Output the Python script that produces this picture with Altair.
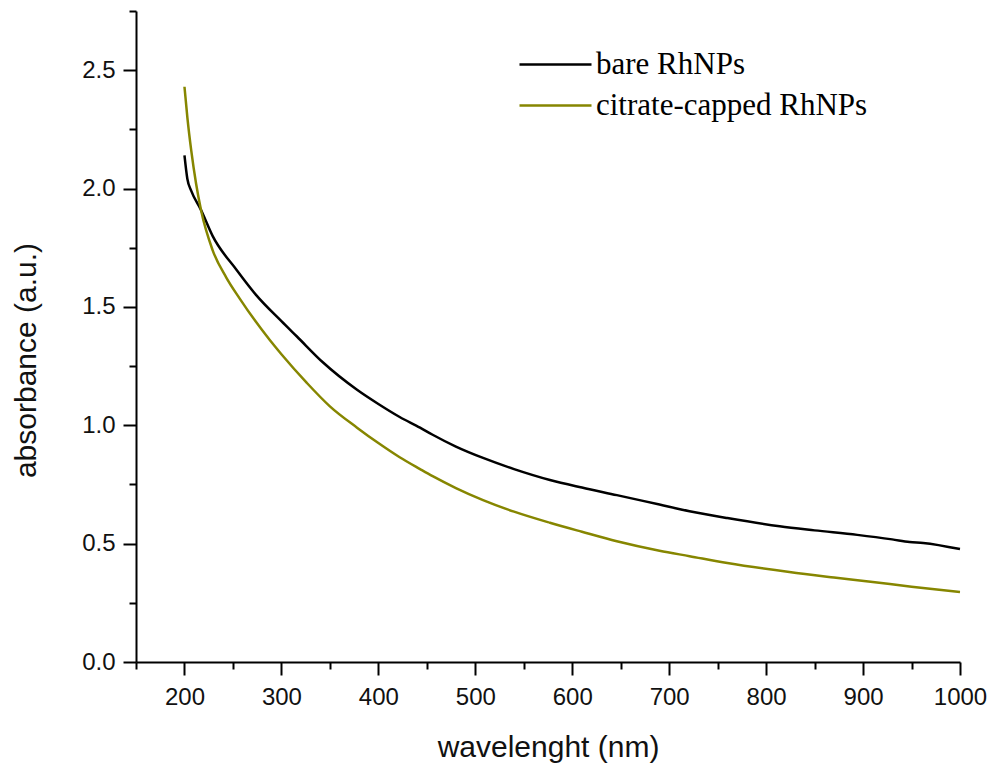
import altair as alt
import pandas as pd

# --- data ---
bare_wl = [200, 203, 207, 217, 229, 254, 274, 300, 316, 343, 378, 400, 422,
           443, 456, 480, 508, 540, 577, 610, 646, 690, 721, 760, 814, 850, 894,
           930, 948, 962, 1000]
bare_abs = [2.14, 2.04, 1.99, 1.91, 1.80, 1.655, 1.55, 1.44, 1.375, 1.265,
            1.15, 1.09, 1.035, 0.99, 0.96, 0.91, 0.862, 0.815, 0.769, 0.737,
            0.705, 0.665, 0.637, 0.608, 0.573, 0.556, 0.537, 0.518, 0.507,
            0.503, 0.477]

cit_wl = [200, 203, 207, 212, 217, 229, 243, 257, 288, 300, 326, 350, 378, 400,
          422, 443, 456, 480, 508, 540, 577, 610, 646, 690, 721, 760, 824, 870,
          910, 950, 1000]
cit_abs = [2.43, 2.30, 2.16, 2.02, 1.91, 1.74, 1.625, 1.535, 1.36, 1.30, 1.18,
           1.08, 0.99, 0.925, 0.865, 0.815, 0.785, 0.735, 0.684, 0.635, 0.588,
           0.55, 0.51, 0.47, 0.447, 0.418, 0.38, 0.357, 0.338, 0.318, 0.296]

series_names = ["bare RhNPs", "citrate-capped RhNPs"]
series_colors = ["#000000", "#868600"]

x_major = list(range(200, 1001, 100))
x_minor = list(range(150, 1000, 100))
y_major = [0.0, 0.5, 1.0, 1.5, 2.0, 2.5]
y_minor = [0.25, 0.75, 1.25, 1.75, 2.25, 2.75]

df = pd.concat([
    pd.DataFrame({"wavelength": bare_wl, "absorbance": bare_abs, "sample": series_names[0]}),
    pd.DataFrame({"wavelength": cit_wl, "absorbance": cit_abs, "sample": series_names[1]}),
])

x_scale = alt.Scale(domain=[150, 1000], nice=False, zero=False)
y_scale = alt.Scale(domain=[0, 2.75], nice=False)

base = alt.Chart(df)

lines = base.mark_line(strokeWidth=2.5, interpolate="monotone").encode(
    x=alt.X("wavelength:Q", title="wavelenght (nm)", scale=x_scale,
            axis=alt.Axis(values=x_major, format="d", tickSize=13, labelPadding=10,
                          labelFlush=False, labelOverlap=False,
                          titleBaseline="alphabetic", titleY=94, grid=False,
                          orient="bottom")),
    y=alt.Y("absorbance:Q", title="absorbance (a.u.)", scale=y_scale,
            axis=alt.Axis(values=y_major, format=".1f", tickSize=13, labelPadding=8,
                          labelFlush=False, labelOverlap=False,
                          titleBaseline="alphabetic", titleAngle=270, titleX=-101,
                          titleY=349, titleAlign="center", grid=False,
                          orient="left")),
    color=alt.Color("sample:N",
                    scale=alt.Scale(domain=series_names, range=series_colors),
                    legend=alt.Legend(
                        orient="none", legendX=400, legendY=34, title=None,
                        symbolType="M-2,0H2", symbolSize=1296, symbolStrokeWidth=2.5,
                        labelFont="Liberation Serif", labelFontSize=31,
                        labelColor="#000000", labelOffset=21, labelLimit=0,
                        rowPadding=6, padding=0,
                    )),
)

minor = base.mark_line(strokeOpacity=0).encode(
    x=alt.X("wavelength:Q", scale=x_scale,
            axis=alt.Axis(values=x_minor, tickSize=7, labels=False, domain=False,
                          title=None, grid=False, orient="bottom")),
    y=alt.Y("absorbance:Q", scale=y_scale,
            axis=alt.Axis(values=y_minor, tickSize=7, labels=False, domain=False,
                          title=None, grid=False, orient="left")),
    detail="sample:N",
)

chart = alt.layer(lines, minor).resolve_axis(
    x="independent", y="independent"
).properties(
    width=824,
    height=651,
    autosize=alt.AutoSizeParams(type="none"),
    padding={"left": 136, "top": 11, "right": 32, "bottom": 102},
    background="white",
).configure_view(
    stroke=None,
).configure_axis(
    domainColor="#000000",
    domainWidth=2,
    tickColor="#000000",
    tickWidth=2,
    labelFont="Liberation Sans",
    labelFontSize=24,
    labelColor="#111111",
    titleFont="Liberation Sans",
    titleFontSize=30,
    titleFontWeight="normal",
    titleColor="#111111",
)

chart.save("out.html", embed_options={"renderer": "svg", "actions": False})
